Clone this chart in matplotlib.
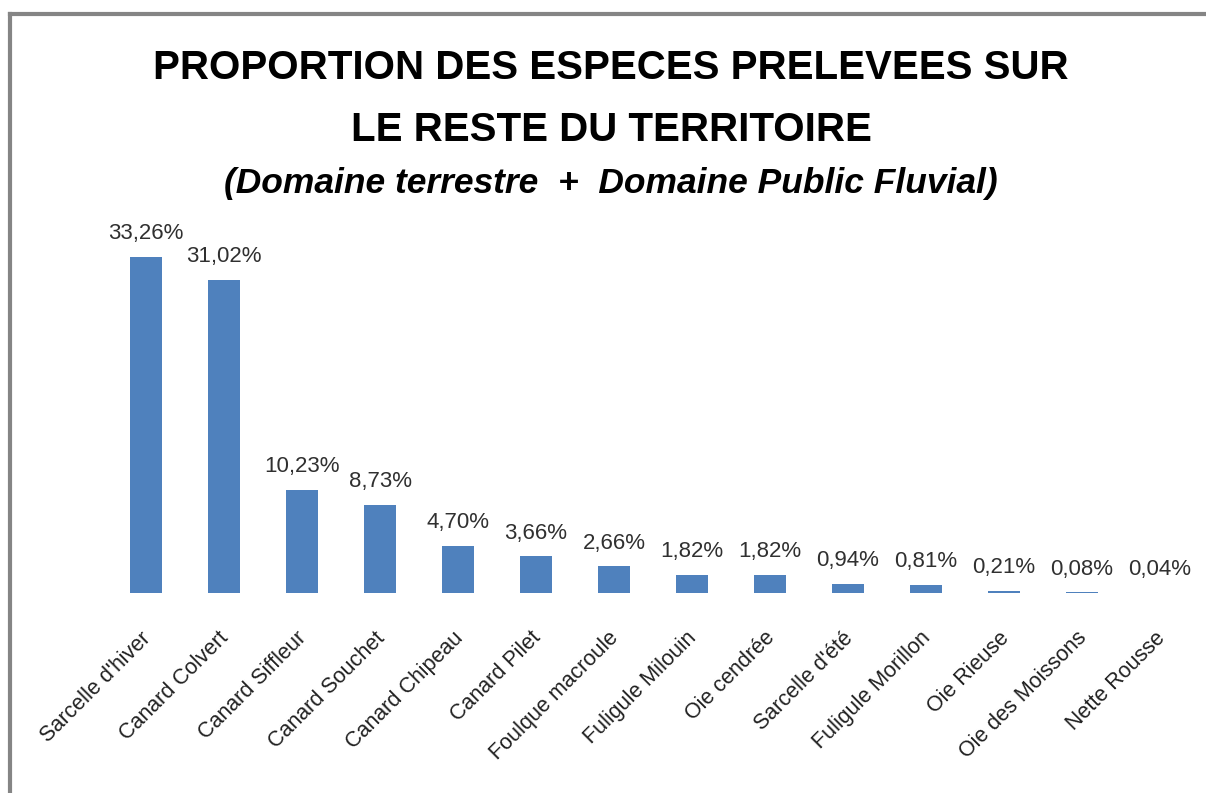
"""
Bar chart: proportion des especes prelevees sur le reste du territoire.
"""

import matplotlib
matplotlib.use('Agg')
import matplotlib.pyplot as plt
from matplotlib.lines import Line2D

# Data
species = [
    "Sarcelle d'hiver", "Canard Colvert", "Canard Siffleur", "Canard Souchet",
    "Canard Chipeau", "Canard Pilet", "Foulque macroule", "Fuligule Milouin",
    "Oie cendrée", "Sarcelle d'été", "Fuligule Morillon", "Oie Rieuse",
    "Oie des Moissons", "Nette Rousse",
]
shares = [33.26, 31.02, 10.23, 8.73, 4.70, 3.66, 2.66, 1.82,
          1.82, 0.94, 0.81, 0.21, 0.08, 0.04]

BAR_COLOR = '#4F81BD'
FONT = ['Liberation Sans', 'DejaVu Sans']


def fmt_pct(v):
    return f"{v:.2f}".replace('.', ',') + '%'


def main():
    plt.rcParams['font.family'] = FONT
    W, H = 1206, 793
    fig = plt.figure(figsize=(W / 100, H / 100), dpi=100)

    # axes placed so the baseline sits at y=593 px and bars span the width
    ymax = 36.0
    px_per_unit = (593 - 257) / 33.26
    top_px = 593 - ymax * px_per_unit
    ax = fig.add_axes([107 / W, 1 - 593 / H, (1199 - 107) / W, (593 - top_px) / H])

    x = range(len(species))
    ax.bar(x, shares, width=0.41, color=BAR_COLOR)
    ax.set_xlim(-0.5, len(species) - 0.5)
    ax.set_ylim(0, ymax)

    for i, v in enumerate(shares):
        ax.annotate(fmt_pct(v), (i, v), xytext=(0, 9), textcoords='offset points',
                    ha='center', va='bottom', fontsize=16, color='#303030')

    ax.set_xticks(list(x))
    ax.set_xticklabels(species, rotation=45, ha='right', va='center_baseline',
                       rotation_mode='anchor', fontsize=15.5, color='#202020')
    ax.tick_params(axis='x', length=0, pad=29)
    ax.set_yticks([])
    for s in ax.spines.values():
        s.set_visible(False)

    # titles
    cx = 611 / W
    fig.text(cx, 1 - 68 / H, "PROPORTION DES ESPECES PRELEVEES SUR",
             ha='center', va='center', fontsize=29, fontweight='bold')
    fig.text(cx, 1 - 130 / H, "LE RESTE DU TERRITOIRE",
             ha='center', va='center', fontsize=29, fontweight='bold')
    fig.text(cx, 1 - 184 / H, "(Domaine terrestre  +  Domaine Public Fluvial)",
             ha='center', va='center', fontsize=25.5, fontweight='bold',
             fontstyle='italic')

    # chart frame (top and left edges only are visible)
    frame = dict(color='#858585', linewidth=3, transform=fig.transFigure)
    fig.add_artist(Line2D([9.5 / W, 1.0], [1 - 13.5 / H, 1 - 13.5 / H], **frame))
    fig.add_artist(Line2D([9.5 / W, 9.5 / W], [0.0, 1 - 13.5 / H], **frame))

    fig.savefig('out.png', dpi=100)


if __name__ == '__main__':
    main()
